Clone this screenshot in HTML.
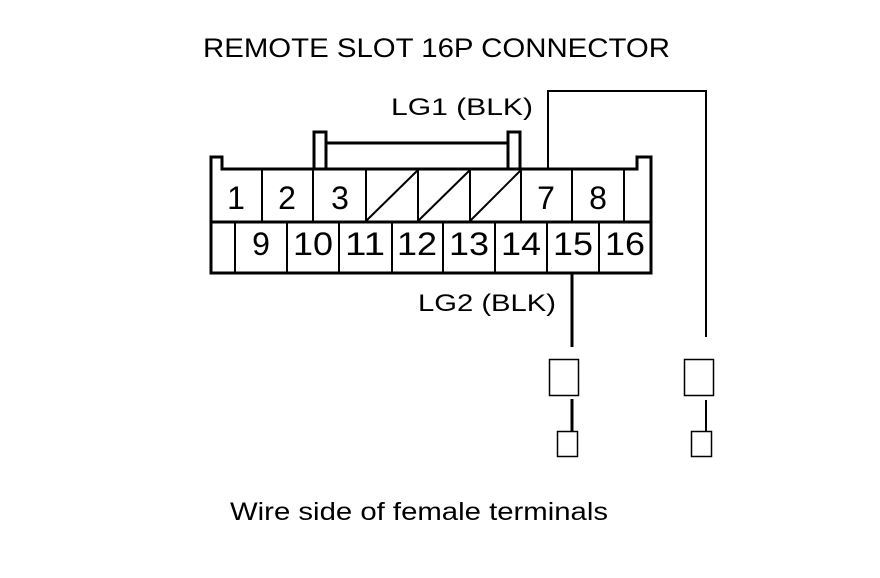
<!DOCTYPE html>
<html><head><meta charset="utf-8"><style>
html,body{margin:0;padding:0;background:#fff;}
svg{display:block;}
text{font-family:"Liberation Sans",Arial,sans-serif;fill:#000;}
</style></head><body>
<svg width="880" height="578" viewBox="0 0 880 578" xmlns="http://www.w3.org/2000/svg">
<text x="203" y="57" font-size="27" textLength="467" lengthAdjust="spacingAndGlyphs">REMOTE SLOT 16P CONNECTOR</text>
<text x="391" y="115" font-size="24" textLength="142" lengthAdjust="spacingAndGlyphs">LG1 (BLK)</text>
<text x="418" y="311" font-size="24" textLength="138" lengthAdjust="spacingAndGlyphs">LG2 (BLK)</text>
<text x="230" y="520" font-size="25" textLength="378" lengthAdjust="spacingAndGlyphs">Wire side of female terminals</text>
<g fill="none" stroke="#000" stroke-width="3">
<path d="M211 273 V157 H222 V169 H637 V157 H651 V273 Z"/>
<line x1="211" y1="222" x2="651" y2="222"/>
<path d="M314 169 V132 H326 V169 M326 143 H508 M508 169 V132 H520 V169"/>
</g>
<g stroke="#000" stroke-width="2">
<line x1="262" y1="169" x2="262" y2="222"/>
<line x1="313" y1="169" x2="313" y2="222"/>
<line x1="366" y1="169" x2="366" y2="222"/>
<line x1="418" y1="169" x2="418" y2="222"/>
<line x1="470" y1="169" x2="470" y2="222"/>
<line x1="521" y1="169" x2="521" y2="222"/>
<line x1="572" y1="169" x2="572" y2="222"/>
<line x1="624" y1="169" x2="624" y2="222"/>
<line x1="366" y1="221" x2="418" y2="170"/>
<line x1="418" y1="221" x2="470" y2="170"/>
<line x1="470" y1="221" x2="521" y2="170"/>
<line x1="235" y1="222" x2="235" y2="273"/>
<line x1="287" y1="222" x2="287" y2="273"/>
<line x1="339" y1="222" x2="339" y2="273"/>
<line x1="392" y1="222" x2="392" y2="273"/>
<line x1="443" y1="222" x2="443" y2="273"/>
<line x1="495" y1="222" x2="495" y2="273"/>
<line x1="547" y1="222" x2="547" y2="273"/>
<line x1="599" y1="222" x2="599" y2="273"/>
<path d="M548 169 V91 H706 V337" fill="none"/>
<line x1="706" y1="400" x2="706" y2="431"/>
</g>
<g stroke="#000" stroke-width="3">
<line x1="572" y1="273" x2="572" y2="347"/>
<line x1="572" y1="399" x2="572" y2="431"/>
</g>
<g fill="none" stroke="#000" stroke-width="1.5">
<rect x="549.5" y="359.5" width="29" height="36"/>
<rect x="557.5" y="431.5" width="20" height="25"/>
<rect x="684.5" y="359.5" width="29" height="36"/>
<rect x="691.5" y="431.5" width="20" height="25"/>
</g>
<g font-size="32" text-anchor="middle">
<text x="236" y="209">1</text>
<text x="287" y="209">2</text>
<text x="340" y="209">3</text>
<text x="546" y="209">7</text>
<text x="598" y="209">8</text>
<text x="261" y="255">9</text>
<text x="313" y="255" textLength="40" lengthAdjust="spacingAndGlyphs">10</text>
<text x="365" y="255" textLength="40" lengthAdjust="spacingAndGlyphs">11</text>
<text x="417" y="255" textLength="40" lengthAdjust="spacingAndGlyphs">12</text>
<text x="469" y="255" textLength="40" lengthAdjust="spacingAndGlyphs">13</text>
<text x="521" y="255" textLength="40" lengthAdjust="spacingAndGlyphs">14</text>
<text x="573" y="255" textLength="40" lengthAdjust="spacingAndGlyphs">15</text>
<text x="625" y="255" textLength="40" lengthAdjust="spacingAndGlyphs">16</text>
</g>
</svg>
</body></html>
